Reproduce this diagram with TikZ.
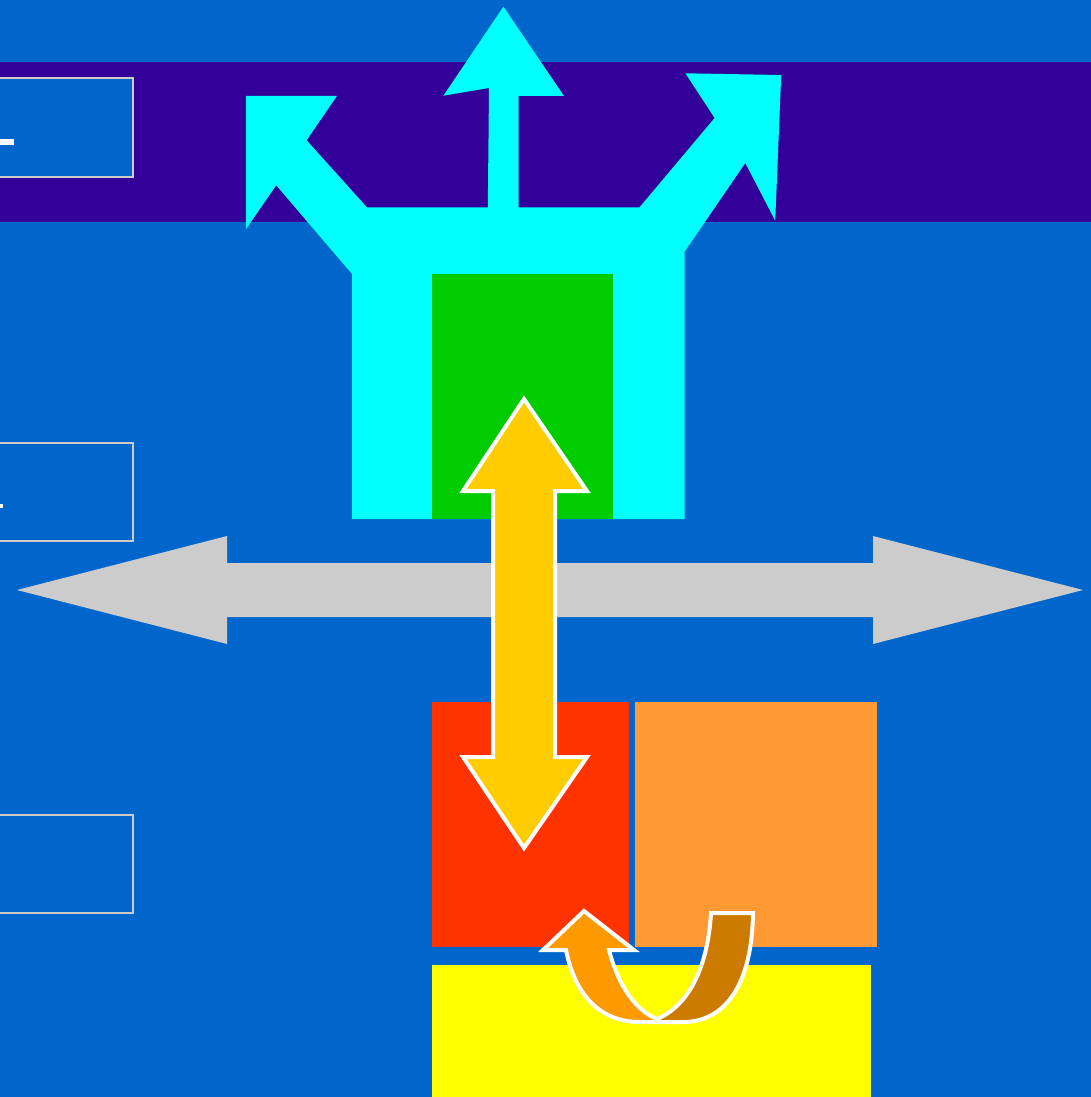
\documentclass[tikz,border=0pt]{standalone}
\usetikzlibrary{calc}

\definecolor{bgblue}{HTML}{0066CC}
\definecolor{bandpurple}{HTML}{330099}
\definecolor{tridentcyan}{HTML}{00FFFF}
\definecolor{blockgreen}{HTML}{00CC00}
\definecolor{busgray}{HTML}{CCCCCC}
\definecolor{linkgold}{HTML}{FFCC00}
\definecolor{blockred}{HTML}{FF3300}
\definecolor{blockorange}{HTML}{FF9933}
\definecolor{blockyellow}{HTML}{FFFF00}
\definecolor{turnorange}{HTML}{FF9900}
\definecolor{turndark}{HTML}{CC7A00}

\tikzset{
    sidebox/.style={draw=busgray, line width=2pt, fill=bgblue},
    outlined/.style={draw=white, line width=4pt, line join=miter}
}

\begin{document}
\begin{tikzpicture}[x=1pt, y=-1pt]
    % fix the page to the reference size
    \useasboundingbox (0,0) rectangle (1091,1097);
    \clip (0,0) rectangle (1091,1097);
    % background and top band
    \fill[bgblue] (0,0) rectangle (1091,1097);
    \fill[bandpurple] (0,62) rectangle (1091,222);
    % side boxes (cut off at the left)
    \draw[sidebox] (-10,78) rectangle (133,177);
    \draw[sidebox] (-10,443) rectangle (133,541);
    \draw[sidebox] (-10,815) rectangle (133,913);
    \fill[white] (0,139) rectangle (14,145);
    \fill[white] (0,504) rectangle (3,508);
    % trident
    \fill[tridentcyan] (352,519) -- (352,274) -- (276.2,185.3) -- (245.9,229.3)
        -- (245.9,96) -- (336.9,96) -- (306.6,140.3) -- (366.9,207.3)
        -- (487.8,207.3) -- (489,88) -- (443.4,95.7) -- (503.4,6.7)
        -- (564,96) -- (518.5,96) -- (518.5,207.3) -- (639.5,207.3)
        -- (714.6,118) -- (685.4,73.3) -- (781.2,75) -- (775.2,220.7)
        -- (745.3,163) -- (684.6,251.7) -- (684.6,519) -- cycle;
    \fill[blockgreen] (432,274) rectangle (613,519);
    % horizontal bus
    \fill[busgray] (17,590) -- (227,536) -- (227,563) -- (873,563) -- (873,536)
        -- (1083,590) -- (873,644) -- (873,617) -- (227,617) -- (227,644) -- cycle;
    % lower blocks
    \fill[blockred] (432,702) rectangle (629,947);
    \fill[blockorange] (635,702) rectangle (877,947);
    \fill[blockyellow] (432,965) rectangle (871,1097);
    % vertical link
    \filldraw[outlined, fill=linkgold] (524,399) -- (587,491) -- (555,491) -- (555,757)
        -- (587,757) -- (524,848) -- (463,757) -- (493,757) -- (493,491)
        -- (463,491) -- cycle;
    % u-turn arrow
    \filldraw[outlined, fill=turnorange] (657,1022) -- (640,1022)
        .. controls (600,1022) and (575,995) .. (566,950) -- (543,950) -- (584,911)
        -- (634,950) -- (609,950) .. controls (618,985) and (635,1010) .. (657,1019) -- cycle;
    \filldraw[outlined, fill=turndark] (657,1019) .. controls (690,1005) and (708,965) .. (711,913)
        -- (753,913) .. controls (752,985) and (725,1022) .. (683,1022) -- (657,1022) -- cycle;
\end{tikzpicture}
\end{document}
